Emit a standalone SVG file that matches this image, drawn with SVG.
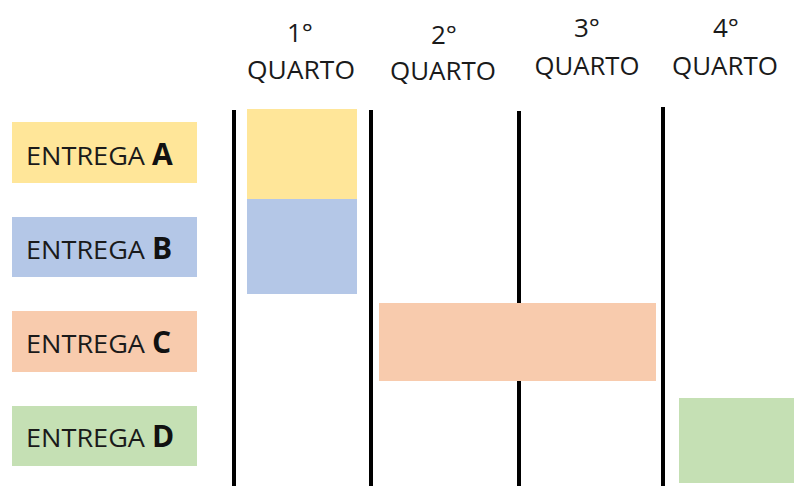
<svg xmlns="http://www.w3.org/2000/svg" width="794" height="486" viewBox="0 0 794 486">
<style>
  .hdr { font-family: "Open Sans", "Liberation Sans", sans-serif; font-size: 26px; fill: #1a1a1a; text-anchor: middle; }
  .lbl { font-family: "Open Sans", "Liberation Sans", sans-serif; font-size: 25px; fill: #1a1a1a; }
  .big { font-family: "Open Sans", "Liberation Sans", sans-serif; font-size: 30px; font-weight: bold; fill: #111; }
  .vline { stroke: #000; stroke-width: 4; }
  .a { fill: #FFE699; }
  .b { fill: #B4C7E7; }
  .c { fill: #F8CBAD; }
  .d { fill: #C5E0B4; }
</style>
<rect width="794" height="486" fill="#fff"/>
<g id="headers">
  <g id="q1"><text class="hdr" x="300" y="42">1°</text><text class="hdr" x="301" y="79" textLength="108" lengthAdjust="spacingAndGlyphs">QUARTO</text></g>
  <g id="q2"><text class="hdr" x="444" y="44">2°</text><text class="hdr" x="443" y="80" textLength="106" lengthAdjust="spacingAndGlyphs">QUARTO</text></g>
  <g id="q3"><text class="hdr" x="587" y="37">3°</text><text class="hdr" x="587" y="75" textLength="105" lengthAdjust="spacingAndGlyphs">QUARTO</text></g>
  <g id="q4"><text class="hdr" x="726" y="37">4°</text><text class="hdr" x="725" y="75" textLength="106" lengthAdjust="spacingAndGlyphs">QUARTO</text></g>
</g>
<g id="connectors">
  <line class="vline" x1="234" y1="110" x2="234" y2="486"/>
  <line class="vline" x1="371" y1="110" x2="371" y2="486"/>
  <line class="vline" x1="519" y1="111" x2="519" y2="486"/>
  <line class="vline" x1="663" y1="107" x2="663" y2="486"/>
</g>
<g id="labelA"><rect class="a" x="12" y="122" width="185" height="61"/><text class="lbl" x="26" y="165" textLength="119" lengthAdjust="spacingAndGlyphs">ENTREGA</text><text class="big" x="152" y="165">A</text></g>
<g id="labelB"><rect class="b" x="12" y="217" width="185" height="60"/><text class="lbl" x="26" y="259" textLength="119" lengthAdjust="spacingAndGlyphs">ENTREGA</text><text class="big" x="152" y="259">B</text></g>
<g id="labelC"><rect class="c" x="12" y="311" width="185" height="61"/><text class="lbl" x="26" y="353" textLength="119" lengthAdjust="spacingAndGlyphs">ENTREGA</text><text class="big" x="152" y="353">C</text></g>
<g id="labelD"><rect class="d" x="12" y="406" width="185" height="60"/><text class="lbl" x="26" y="447" textLength="119" lengthAdjust="spacingAndGlyphs">ENTREGA</text><text class="big" x="152" y="447">D</text></g>
<g id="barA"><rect class="a" x="247" y="109" width="110" height="90"/></g>
<g id="barB"><rect class="b" x="247" y="199" width="110" height="95"/></g>
<g id="barC"><rect class="c" x="379" y="303" width="277" height="78"/></g>
<g id="barD"><rect class="d" x="679" y="398" width="115" height="85"/></g>
</svg>
